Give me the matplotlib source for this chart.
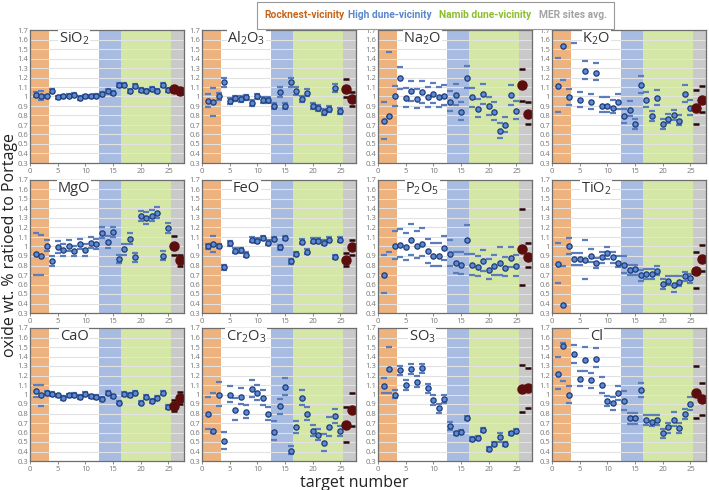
import numpy as np
import matplotlib
matplotlib.use('Agg')
import matplotlib.pyplot as plt
from matplotlib.patches import Rectangle
from matplotlib import font_manager

plt.rcParams['font.family'] = ['Open Sans', 'DejaVu Sans']
plt.rcParams['mathtext.default'] = 'regular'

# target numbers (1-25 Curiosity targets, 26-27 MER sites avg.)
targets = np.arange(1, 28)

sio2_val = [1.02,1.01,1.00,1.06,0.99,1.00,1.01,1.02,0.98,1.00,1.00,1.01,1.03,1.06,1.04,1.12,1.12,1.06,1.11,1.07,1.06,1.08,1.06,1.12,1.07,1.08,1.06]
sio2_lo  = [0.99,0.96,0.98,1.04,0.97,0.98,0.99,1.00,0.96,0.98,0.98,0.99,1.01,1.04,1.02,1.10,1.10,1.04,1.09,1.05,1.04,1.06,1.04,1.10,1.05,1.05,1.03]
sio2_hi  = [1.05,1.06,1.02,1.08,1.01,1.02,1.03,1.04,1.00,1.02,1.02,1.03,1.05,1.08,1.06,1.14,1.14,1.08,1.13,1.09,1.08,1.10,1.08,1.14,1.09,1.11,1.09]

al2o3_val = [0.955,0.94,1.00,1.15,0.95,0.98,0.97,0.99,0.93,1.00,0.96,0.96,0.90,1.045,0.90,1.15,1.06,0.97,1.04,0.90,0.88,0.84,0.87,1.09,0.85,1.08,0.975]
al2o3_lo  = [0.89,0.79,0.96,1.10,0.92,0.95,0.94,0.96,0.90,0.97,0.93,0.93,0.87,0.995,0.87,1.10,1.02,0.94,1.00,0.87,0.85,0.81,0.84,1.05,0.82,0.99,0.90]
al2o3_hi  = [1.03,1.09,1.04,1.20,0.98,1.01,1.00,1.02,0.96,1.03,0.99,0.99,0.93,1.095,0.93,1.20,1.10,1.00,1.08,0.93,0.91,0.87,0.90,1.13,0.88,1.18,1.05]

na2o_val = [0.74,0.79,1.00,1.19,0.985,1.055,0.975,1.045,0.99,1.03,0.99,1.005,0.94,1.015,0.84,1.19,0.99,0.87,1.025,0.90,0.84,0.64,0.70,1.015,0.85,1.12,0.82]
na2o_lo  = [0.555,0.78,0.90,1.08,0.89,0.95,0.88,0.93,0.89,0.93,0.89,0.91,0.85,0.91,0.75,1.09,0.89,0.78,0.92,0.81,0.75,0.56,0.63,0.91,0.76,0.955,0.71]
na2o_hi  = [0.94,1.47,1.11,1.31,1.09,1.16,1.08,1.16,1.10,1.14,1.10,1.12,1.06,1.13,0.94,1.32,1.09,0.97,1.13,0.99,0.94,0.72,0.78,1.12,0.95,1.29,0.94]

k2o_val = [1.11,1.53,0.99,1.80,0.965,1.27,0.945,1.25,0.905,0.905,0.88,0.945,0.79,0.86,0.71,1.125,0.965,0.79,0.98,0.71,0.765,0.80,0.745,1.03,0.88,0.88,0.965]
k2o_lo  = [0.835,1.17,0.91,1.56,0.89,1.18,0.87,1.17,0.84,0.84,0.83,0.87,0.72,0.79,0.66,1.04,0.89,0.74,0.91,0.66,0.72,0.75,0.70,0.945,0.80,0.71,0.835]
k2o_hi  = [1.41,1.90,1.08,2.00,1.05,1.37,1.03,1.35,0.99,0.99,0.96,1.03,0.87,0.95,0.76,1.22,1.05,0.85,1.07,0.76,0.82,0.86,0.80,1.12,0.96,1.065,1.11]

mgo_val = [0.92,0.905,1.01,0.85,0.995,0.965,1.01,0.95,1.025,0.965,1.035,1.025,1.14,1.045,1.155,0.87,0.97,1.08,0.885,1.32,1.30,1.32,1.355,0.905,1.195,1.00,0.86]
mgo_lo  = [0.705,0.705,0.95,0.80,0.935,0.905,0.95,0.895,0.97,0.905,0.98,0.97,1.085,0.985,1.105,0.825,0.915,1.025,0.84,1.27,1.24,1.265,1.30,0.855,1.14,0.915,0.80]
mgo_hi  = [1.14,1.12,1.07,0.895,1.055,1.025,1.07,1.01,1.08,1.025,1.095,1.08,1.21,1.11,1.21,0.915,1.03,1.14,0.93,1.375,1.36,1.385,1.415,0.955,1.25,1.11,0.915]

feo_val = [1.00,1.03,1.005,0.78,1.035,0.955,0.96,0.915,1.07,1.06,1.09,1.04,1.08,0.99,1.09,0.845,0.92,1.05,0.945,1.06,1.06,1.04,1.07,0.89,1.07,0.86,0.99]
feo_lo  = [0.975,0.94,0.98,0.755,1.01,0.93,0.935,0.89,1.045,1.035,1.065,1.015,1.055,0.965,1.065,0.82,0.895,1.025,0.92,1.035,1.035,1.015,1.045,0.865,1.045,0.79,0.915]
feo_hi  = [1.025,1.11,1.03,0.805,1.06,0.98,0.985,0.94,1.095,1.085,1.115,1.065,1.105,1.015,1.115,0.87,0.945,1.075,0.97,1.085,1.085,1.065,1.095,0.915,1.095,0.93,1.065]

p2o5_val = [0.70,0.20,1.01,1.02,0.99,1.07,1.01,1.03,0.95,0.905,0.905,0.98,0.92,0.83,0.81,1.065,0.805,0.785,0.85,0.755,0.80,0.83,0.77,0.875,0.79,0.97,0.89]
p2o5_lo  = [0.51,0.10,0.87,0.885,0.855,0.91,0.875,0.895,0.83,0.795,0.795,0.86,0.79,0.725,0.715,0.925,0.70,0.685,0.74,0.66,0.705,0.70,0.685,0.78,0.69,0.60,0.78]
p2o5_hi  = [0.91,0.94,1.165,1.18,1.145,1.235,1.165,1.19,1.08,1.035,1.035,1.11,1.07,0.94,0.94,1.225,0.92,0.90,0.965,0.865,0.915,0.99,0.89,0.995,0.91,1.39,1.035]

tio2_val = [0.82,0.38,1.00,0.87,0.87,0.855,0.905,0.825,0.885,0.93,0.885,0.83,0.81,0.755,0.76,0.70,0.715,0.715,0.745,0.605,0.635,0.59,0.63,0.685,0.665,0.745,0.87]
tio2_lo  = [0.62,0.20,0.92,0.81,0.81,0.655,0.84,0.77,0.83,0.87,0.83,0.78,0.72,0.70,0.70,0.64,0.66,0.66,0.695,0.555,0.59,0.52,0.58,0.635,0.615,0.565,0.74]
tio2_hi  = [1.04,0.80,1.09,0.93,0.93,1.07,0.97,0.88,0.94,0.99,0.94,0.90,0.90,0.81,0.81,0.755,0.765,0.765,0.79,0.655,0.69,0.69,0.685,0.735,0.715,0.94,1.015]

cao_val = [1.04,0.99,1.015,1.005,0.99,0.96,0.99,0.995,0.975,1.005,0.98,0.97,0.95,1.02,0.98,0.915,1.005,0.995,1.02,0.915,0.975,0.93,0.96,1.015,0.865,0.88,0.965]
cao_lo  = [0.97,0.88,0.995,0.985,0.97,0.94,0.97,0.975,0.955,0.985,0.96,0.95,0.93,1.00,0.96,0.895,0.985,0.975,1.00,0.895,0.955,0.91,0.94,0.995,0.845,0.83,0.90]
cao_hi  = [1.105,1.10,1.035,1.025,1.01,0.98,1.01,1.015,0.995,1.025,1.00,0.99,0.97,1.04,1.00,0.935,1.025,1.015,1.04,0.935,0.995,0.95,0.98,1.035,0.885,0.94,1.025]

cr2o3_val = [0.795,0.615,1.00,0.515,1.00,0.84,0.975,0.82,1.06,1.02,0.96,0.795,0.61,0.875,1.08,0.41,0.655,0.96,0.795,0.615,0.575,0.49,0.655,0.775,0.615,0.675,0.84]
cr2o3_lo  = [0.635,0.60,0.88,0.43,0.92,0.735,0.90,0.75,0.97,0.945,0.885,0.73,0.52,0.80,1.00,0.37,0.595,0.885,0.73,0.565,0.52,0.405,0.565,0.705,0.56,0.50,0.67]
cr2o3_hi  = [0.975,1.02,1.13,0.61,1.085,0.96,1.065,0.89,1.155,1.105,1.045,0.865,0.72,0.955,1.17,0.46,0.72,1.045,0.865,0.68,0.635,0.58,0.765,0.85,0.67,0.87,1.015]

so3_val = [1.09,1.27,1.00,1.255,1.10,1.265,1.135,1.275,1.065,0.94,0.855,0.955,0.67,0.59,0.61,0.755,0.53,0.54,0.625,0.43,0.48,0.55,0.48,0.59,0.615,1.06,1.065]
so3_lo  = [1.02,1.02,0.96,1.205,1.045,1.215,1.08,1.225,1.015,0.89,0.81,0.91,0.625,0.57,0.59,0.735,0.51,0.52,0.605,0.41,0.46,0.50,0.46,0.57,0.595,0.82,0.86]
so3_hi  = [1.17,1.50,1.05,1.305,1.155,1.325,1.19,1.32,1.115,0.99,0.90,1.00,0.715,0.61,0.63,0.775,0.55,0.56,0.645,0.45,0.50,0.60,0.50,0.61,0.635,1.31,1.28]

cl_val = [1.215,1.515,1.00,1.43,1.16,1.36,1.15,1.37,1.10,0.935,0.91,1.015,0.935,0.75,0.75,1.05,0.73,0.715,0.73,0.59,0.655,0.73,0.65,0.80,0.905,1.015,0.95]
cl_lo  = [1.06,1.14,0.915,1.335,1.085,1.25,1.07,1.29,1.015,0.875,0.84,0.945,0.84,0.69,0.69,0.97,0.68,0.665,0.68,0.54,0.60,0.67,0.59,0.745,0.84,0.755,0.78]
cl_hi  = [1.39,1.54,1.09,1.52,1.25,1.50,1.23,1.49,1.18,0.985,0.97,1.09,1.04,0.81,0.81,1.12,0.78,0.78,0.78,0.64,0.70,0.82,0.70,0.85,0.97,1.30,1.12]

oxides = [
    ('SiO$_2$', sio2_val, sio2_lo, sio2_hi),
    ('Al$_2$O$_3$', al2o3_val, al2o3_lo, al2o3_hi),
    ('Na$_2$O', na2o_val, na2o_lo, na2o_hi),
    ('K$_2$O', k2o_val, k2o_lo, k2o_hi),
    ('MgO', mgo_val, mgo_lo, mgo_hi),
    ('FeO', feo_val, feo_lo, feo_hi),
    ('P$_2$O$_5$', p2o5_val, p2o5_lo, p2o5_hi),
    ('TiO$_2$', tio2_val, tio2_lo, tio2_hi),
    ('CaO', cao_val, cao_lo, cao_hi),
    ('Cr$_2$O$_3$', cr2o3_val, cr2o3_lo, cr2o3_hi),
    ('SO$_3$', so3_val, so3_lo, so3_hi),
    ('Cl', cl_val, cl_lo, cl_hi),
]

# group regions along the target axis
regions = [(0, 3.5, '#EDB27E'), (12.5, 16.4, '#A8BCE2'), (16.4, 25.4, '#D5E7A6'), (25.4, 27.8, '#C9C9C9')]
legend_labels = ['Rocknest-vicinity', 'High dune-vicinity', 'Namib dune-vicinity', 'MER sites avg.']
legend_colors = ['#C8651B', '#5B87CC', '#8CBF2E', '#A3A3A3']

fig = plt.figure(figsize=(7.09, 4.9), dpi=100)

lefts = [30/709, 202/709, 378/709, 552/709]
bottoms = [1 - 163/490, 1 - 313/490, 1 - 461/490]
w, h = 154/709, 133/490

for i, (name, val, lo, hi) in enumerate(oxides):
    ax = fig.add_axes([lefts[i % 4], bottoms[i // 4], w, h])
    val = np.array(val); lo = np.array(lo); hi = np.array(hi)
    for x0, x1, c in regions:
        ax.axvspan(x0, x1, color=c, lw=0, zorder=0)
    ax.set_yticks(np.round(np.arange(0.3, 1.71, 0.1), 1))
    ax.yaxis.grid(True, color='#E2E2E2', lw=0.8, zorder=1)
    ax.set_axisbelow(False)

    b = targets <= 25
    m = targets > 25
    ax.plot(targets[b], lo[b], '_', color='#5B7DBB', ms=4, mew=1.6, zorder=3)
    ax.plot(targets[b], hi[b], '_', color='#5B7DBB', ms=4, mew=1.6, zorder=3)
    ax.plot(targets[b], val[b], 'o', mfc='#5A8AD2', mec='#1E3A78', mew=0.9, ms=3.8, zorder=4)
    ax.plot(targets[m], lo[m], '_', color='#2B0808', ms=4.5, mew=1.8, zorder=3)
    ax.plot(targets[m], hi[m], '_', color='#2B0808', ms=4.5, mew=1.8, zorder=3)
    ax.plot(targets[m], val[m], 'o', color='#5C0E0E', ms=6.5, zorder=4)

    ax.set_xlim(0, 27.8)
    ax.set_ylim(0.3, 1.7)
    ax.set_xticks([0, 5, 10, 15, 20, 25])
    ax.set_yticklabels(['%g' % t for t in ax.get_yticks()])
    ax.tick_params(labelsize=5.5, colors='#777777', length=2, width=0.6, pad=1.5)
    ax.tick_params(axis='y', length=0)
    for s in ax.spines.values():
        s.set_color('#6E6E6E')
        s.set_linewidth(0.9)
        s.set_zorder(5)
    ax.text(8, 1.61, name, ha='center', va='center', fontsize=10.5, color='#333333', zorder=6,
            bbox=dict(facecolor='white', edgecolor='none', pad=0.5))

fig.text(0.014, 0.5, 'oxide wt. % ratioed to Portage', rotation=90, ha='center', va='center',
         fontsize=11.5, color='#222222')
fig.text(0.5, 1 - 483/490, 'target number', ha='center', va='center', fontsize=11.5, color='#222222')

# legend box at the top
fig.patches.append(Rectangle((257/709, 1 - 29/490), 357/709, 27/490, transform=fig.transFigure,
                             facecolor='white', edgecolor='#999999', lw=0.8))
names = {f.name for f in font_manager.fontManager.ttflist}
leg_font = 'Liberation Sans Narrow' if 'Liberation Sans Narrow' in names else 'Roboto'
xs = [304, 390, 485, 573]
for x, lab, c in zip(xs, legend_labels, legend_colors):
    fig.text(x/709, 1 - 15/490, lab, ha='center', va='center', fontsize=7.4, fontweight='bold',
             color=c, family=leg_font)

fig.savefig('out.png', dpi=100)
